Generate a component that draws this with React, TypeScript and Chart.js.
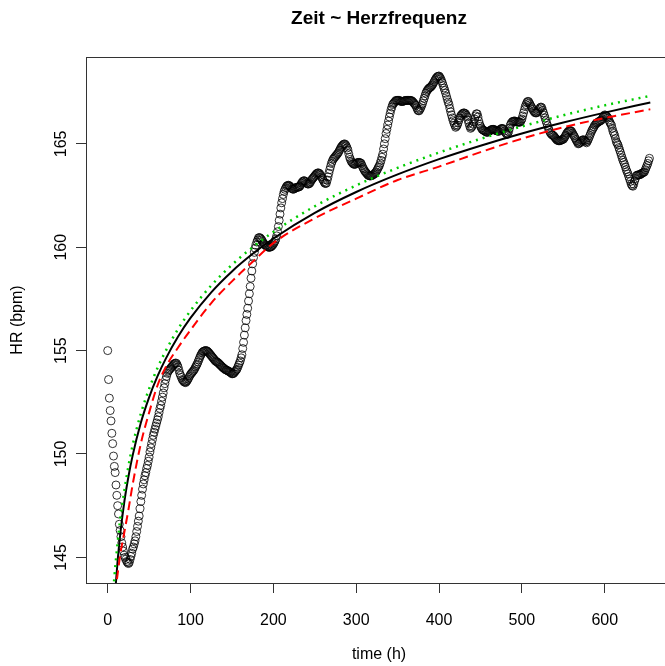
import React, { useEffect, useRef } from 'react';
import { Chart, registerables } from 'chart.js';

Chart.register(...registerables);

const titleText = 'Zeit ~ Herzfrequenz';
const xAxisLabel = 'time (h)';
const yAxisLabel = 'HR (bpm)';
const xTickValues = [0, 100, 200, 300, 400, 500, 600];
const yTickValues = [145, 150, 155, 160, 165];

// heart rate, one value per hour, t = 0 .. 654
const hrStart = 0;
const hrStep = 1;
const heartRate = [
  155.0, 153.6, 152.7, 152.1, 151.6, 151.0, 150.5, 149.9, 149.4, 149.1,
  148.5, 148.0, 147.5, 147.1, 146.6, 146.3, 146.0, 145.7, 145.5, 145.3,
  145.1, 145.0, 144.9, 144.8, 144.75, 144.7, 144.75, 144.9, 145.05, 145.2,
  145.4, 145.5, 145.65, 145.8, 146.0, 146.25, 146.5, 146.75, 147.0, 147.35,
  147.7, 148.0, 148.3, 148.55, 148.75, 148.95, 149.1, 149.3, 149.45, 149.65,
  149.85, 150.1, 150.3, 150.5, 150.7, 150.9, 151.05, 151.2, 151.35, 151.5,
  151.65, 151.8, 152.0, 152.2, 152.35, 152.55, 152.75, 152.95, 153.2, 153.4,
  153.6, 153.75, 153.9, 154.0, 154.05, 154.1, 154.15, 154.2, 154.25, 154.3,
  154.35, 154.38, 154.4, 154.38, 154.3, 154.2, 154.05, 153.9, 153.8, 153.7,
  153.6, 153.55, 153.5, 153.47, 153.45, 153.5, 153.55, 153.62, 153.7, 153.78,
  153.85, 153.9, 153.95, 154.0, 154.05, 154.12, 154.2, 154.28, 154.35, 154.45,
  154.55, 154.65, 154.75, 154.82, 154.9, 154.94, 154.97, 154.99, 155.0, 155.0,
  154.98, 154.94, 154.9, 154.85, 154.8, 154.75, 154.7, 154.65, 154.6, 154.55,
  154.5, 154.47, 154.45, 154.42, 154.38, 154.34, 154.3, 154.26, 154.22, 154.18,
  154.15, 154.12, 154.08, 154.06, 154.05, 154.02, 154.0, 153.98, 153.95, 153.92,
  153.88, 153.88, 153.9, 153.95, 154.0, 154.05, 154.1, 154.2, 154.3, 154.4,
  154.5, 154.65, 154.8, 155.1, 155.4, 155.75, 156.1, 156.45, 156.75, 157.05,
  157.4, 157.75, 158.1, 158.5, 158.85, 159.2, 159.5, 159.75, 159.95, 160.1,
  160.25, 160.35, 160.45, 160.47, 160.45, 160.4, 160.35, 160.28, 160.2, 160.15,
  160.1, 160.07, 160.05, 160.02, 160.0, 160.0, 160.0, 160.02, 160.05, 160.1,
  160.15, 160.22, 160.3, 160.4, 160.55, 160.75, 161.0, 161.3, 161.6, 161.9,
  162.15, 162.35, 162.55, 162.7, 162.8, 162.88, 162.95, 162.98, 163.0, 162.98,
  162.95, 162.9, 162.85, 162.82, 162.8, 162.82, 162.85, 162.88, 162.9, 162.9,
  162.9, 162.92, 162.95, 163.02, 163.1, 163.15, 163.2, 163.22, 163.2, 163.15,
  163.1, 163.07, 163.05, 163.07, 163.1, 163.17, 163.25, 163.3, 163.35, 163.4,
  163.45, 163.5, 163.55, 163.58, 163.6, 163.58, 163.55, 163.48, 163.4, 163.32,
  163.25, 163.17, 163.1, 163.08, 163.1, 163.25, 163.4, 163.58, 163.75, 163.9,
  164.05, 164.15, 164.25, 164.3, 164.35, 164.4, 164.45, 164.5, 164.55, 164.62,
  164.7, 164.78, 164.85, 164.9, 164.95, 164.98, 165.0, 164.96, 164.9, 164.8,
  164.7, 164.52, 164.35, 164.25, 164.15, 164.1, 164.05, 164.02, 164.0, 164.02,
  164.05, 164.08, 164.1, 164.1, 164.1, 164.08, 164.05, 163.95, 163.85, 163.78,
  163.7, 163.65, 163.6, 163.55, 163.5, 163.47, 163.45, 163.45, 163.45, 163.47,
  163.5, 163.52, 163.55, 163.6, 163.65, 163.72, 163.8, 163.88, 163.95, 164.07,
  164.2, 164.35, 164.5, 164.75, 165.0, 165.25, 165.5, 165.7, 165.9, 166.1,
  166.3, 166.48, 166.65, 166.78, 166.9, 166.95, 167.0, 167.05, 167.1, 167.1,
  167.1, 167.1, 167.1, 167.08, 167.05, 167.05, 167.05, 167.06, 167.08, 167.09,
  167.1, 167.1, 167.1, 167.1, 167.1, 167.1, 167.1, 167.08, 167.05, 167.0,
  166.95, 166.9, 166.85, 166.75, 166.65, 166.6, 166.6, 166.67, 166.75, 166.85,
  166.95, 167.08, 167.2, 167.32, 167.45, 167.53, 167.6, 167.65, 167.7, 167.72,
  167.75, 167.8, 167.85, 167.92, 168.0, 168.08, 168.15, 168.2, 168.25, 168.27,
  168.28, 168.22, 168.15, 168.05, 167.95, 167.82, 167.7, 167.58, 167.45, 167.3,
  167.15, 167.02, 166.9, 166.72, 166.55, 166.4, 166.25, 166.12, 166.0, 165.9,
  165.8, 165.85, 165.9, 166.02, 166.15, 166.25, 166.35, 166.4, 166.45, 166.48,
  166.5, 166.48, 166.45, 166.38, 166.3, 166.15, 166.0, 165.85, 165.75, 165.8,
  165.85, 165.95, 166.05, 166.2, 166.35, 166.45, 166.45, 166.3, 166.1, 165.95,
  165.85, 165.77, 165.7, 165.67, 165.65, 165.62, 165.6, 165.57, 165.55, 165.57,
  165.6, 165.62, 165.65, 165.68, 165.7, 165.7, 165.7, 165.68, 165.65, 165.64,
  165.63, 165.61, 165.6, 165.65, 165.7, 165.73, 165.75, 165.73, 165.7, 165.62,
  165.55, 165.5, 165.45, 165.5, 165.6, 165.75, 165.9, 165.98, 166.05, 166.08,
  166.1, 166.1, 166.1, 166.07, 166.05, 166.05, 166.05, 166.05, 166.05, 166.12,
  166.2, 166.35, 166.5, 166.65, 166.8, 166.9, 167.0, 167.05, 167.05, 166.98,
  166.9, 166.82, 166.75, 166.68, 166.6, 166.55, 166.5, 166.5, 166.5, 166.55,
  166.6, 166.68, 166.75, 166.78, 166.75, 166.62, 166.5, 166.38, 166.25, 166.12,
  166.0, 165.88, 165.75, 165.65, 165.55, 165.5, 165.45, 165.42, 165.4, 165.35,
  165.3, 165.25, 165.2, 165.17, 165.15, 165.15, 165.15, 165.17, 165.2, 165.21,
  165.22, 165.28, 165.35, 165.42, 165.5, 165.55, 165.6, 165.63, 165.65, 165.63,
  165.6, 165.52, 165.45, 165.38, 165.3, 165.22, 165.15, 165.08, 165.0, 165.02,
  165.05, 165.1, 165.15, 165.18, 165.2, 165.18, 165.15, 165.1, 165.05, 165.12,
  165.2, 165.3, 165.4, 165.5, 165.6, 165.68, 165.75, 165.82, 165.9, 165.95,
  166.0, 166.02, 166.05, 166.08, 166.1, 166.12, 166.15, 166.22, 166.3, 166.35,
  166.4, 166.38, 166.35, 166.3, 166.25, 166.15, 166.05, 165.98, 165.9, 165.75,
  165.6, 165.5, 165.4, 165.25, 165.1, 165.02, 164.95, 164.82, 164.7, 164.58,
  164.45, 164.32, 164.2, 164.1, 164.0, 163.88, 163.75, 163.65, 163.55, 163.42,
  163.3, 163.18, 163.05, 162.98, 162.95, 163.05, 163.2, 163.32, 163.45, 163.48,
  163.5, 163.5, 163.5, 163.52, 163.55, 163.58, 163.6, 163.62, 163.65, 163.75,
  163.85, 163.95, 164.05, 164.18, 164.3,
];

// fitted model curves at these times
const fitTimes = [7, 8, 10, 12, 15, 20, 25, 30, 40, 50, 60, 70, 85, 100, 125, 150, 175, 200, 250, 300, 350, 400, 450, 500, 550, 600, 655];
const fitBlack = [141.85, 142.59, 143.83, 144.84, 146.07, 147.67, 148.9, 149.91, 151.51, 152.74, 153.75, 154.6, 155.68, 156.58, 157.82, 158.83, 159.68, 160.42, 161.66, 162.67, 163.52, 164.26, 164.91, 165.5, 166.03, 166.51, 167.0];
const fitGreen = [143.5, 144.0, 144.9, 145.7, 146.8, 148.2, 149.4, 150.4, 151.95, 153.15, 154.15, 154.98, 156.05, 156.93, 158.15, 159.15, 160.0, 160.74, 161.98, 162.99, 163.84, 164.58, 165.24, 165.84, 166.38, 166.86, 167.32];
const fitRed = [142.6, 143.0, 143.6, 144.2, 145.1, 146.2, 147.3, 148.5, 150.5, 152.0, 153.3, 154.2, 155.15, 156.0, 157.3, 158.35, 159.3, 160.2, 161.4, 162.35, 163.25, 163.9, 164.6, 165.25, 165.8, 166.25, 166.67];

const X_MIN = -26.2;
const X_MAX = 681.2;
const Y_MIN = 143.76;
const Y_MAX = 169.2;

const FONT = '"Liberation Sans", Arial, Helvetica, sans-serif';

function seriesPoints(start: number, step: number, vals: number[]) {
  return vals.map((v, i) => ({ x: start + i * step, y: v }));
}
function curvePoints(ts: number[], vals: number[]) {
  return ts.map((t, i) => ({ x: t, y: vals[i] }));
}

const textPlugin = {
  id: 'rtext',
  afterDraw(chart: any) {
    const ctx = chart.ctx;
    const { left, right, top, bottom } = chart.chartArea;
    const yScale = chart.scales.y;
    ctx.save();
    ctx.strokeStyle = '#333';
    ctx.lineWidth = 1;
    ctx.strokeRect(Math.round(left) + 0.5, Math.round(top) + 0.5, Math.round(right - left), Math.round(bottom - top));
    ctx.fillStyle = '#000';
    ctx.font = `bold 19px ${FONT}`;
    ctx.textAlign = 'center';
    ctx.textBaseline = 'middle';
    const cx = (left + right) / 2;
    ctx.fillText(titleText, cx, 19);
    ctx.font = `16px ${FONT}`;
    ctx.fillText(xAxisLabel, cx, 655);
    for (const v of yTickValues) {
      const py = yScale.getPixelForValue(v);
      ctx.save();
      ctx.translate(62, py);
      ctx.rotate(-Math.PI / 2);
      ctx.fillText(String(v), 0, 0);
      ctx.restore();
    }
    ctx.save();
    ctx.translate(18, (top + bottom) / 2);
    ctx.rotate(-Math.PI / 2);
    ctx.fillText(yAxisLabel, 0, 0);
    ctx.restore();
    ctx.restore();
  },
};

export default function App() {
  const canvasRef = useRef<HTMLCanvasElement | null>(null);

  useEffect(() => {
    const canvas = canvasRef.current;
    if (!canvas) return;
    Chart.defaults.font.family = FONT;
    const chart = new Chart(canvas, {
      type: 'scatter',
      data: {
        datasets: [
          {
            label: 'green fit',
            data: curvePoints(fitTimes, fitGreen),
            showLine: true,
            borderColor: '#00CD00',
            borderWidth: 2.5,
            borderDash: [2, 5],
            pointRadius: 0,
            cubicInterpolationMode: 'monotone',
            order: 1,
          },
          {
            label: 'red fit',
            data: curvePoints(fitTimes, fitRed),
            showLine: true,
            borderColor: '#FF0000',
            borderWidth: 2,
            borderDash: [9, 5],
            pointRadius: 0,
            cubicInterpolationMode: 'monotone',
            order: 2,
          },
          {
            label: 'black fit',
            data: curvePoints(fitTimes, fitBlack),
            showLine: true,
            borderColor: '#000000',
            borderWidth: 2,
            pointRadius: 0,
            cubicInterpolationMode: 'monotone',
            order: 3,
          },
          {
            label: 'HR',
            data: seriesPoints(hrStart, hrStep, heartRate),
            showLine: false,
            pointStyle: 'circle',
            pointRadius: 4,
            pointBorderWidth: 1,
            pointBorderColor: 'rgba(0,0,0,0.8)',
            pointBackgroundColor: 'rgba(0,0,0,0)',
            order: 4,
          },
        ],
      } as any,
      options: {
        animation: false,
        responsive: false,
        devicePixelRatio: 1,
        layout: { padding: { top: 57, right: 28, left: 0, bottom: 0 } },
        plugins: {
          legend: { display: false },
          title: { display: false },
          tooltip: { enabled: false },
        },
        events: [],
        scales: {
          x: {
            type: 'linear',
            position: 'bottom',
            min: X_MIN,
            max: X_MAX,
            afterBuildTicks: (s: any) => {
              s.ticks = xTickValues.map((v) => ({ value: v }));
            },
            afterFit: (s: any) => {
              s.height = 83;
            },
            ticks: {
              autoSkip: false,
              maxRotation: 0,
              minRotation: 0,
              padding: 18,
              color: '#000',
              font: { size: 16, family: FONT },
            },
            grid: {
              display: true,
              drawOnChartArea: false,
              drawTicks: true,
              tickLength: 10,
              color: '#333',
              lineWidth: 1,
            },
            border: { display: false },
          },
          y: {
            type: 'linear',
            position: 'left',
            min: Y_MIN,
            max: Y_MAX,
            afterBuildTicks: (s: any) => {
              s.ticks = yTickValues.map((v) => ({ value: v }));
            },
            afterFit: (s: any) => {
              s.width = 86;
            },
            ticks: { display: false },
            grid: {
              display: true,
              drawOnChartArea: false,
              drawTicks: true,
              tickLength: 10,
              color: '#333',
              lineWidth: 1,
            },
            border: { display: false },
          },
        },
      } as any,
      plugins: [textPlugin],
    });
    return () => chart.destroy();
  }, []);

  return (
    <div
      style={{
        position: 'fixed',
        left: 0,
        top: 0,
        width: 665,
        height: 666,
        overflow: 'hidden',
        background: '#fff',
      }}
    >
      <canvas ref={canvasRef} width={700} height={666} style={{ display: 'block', width: 700, height: 666 }} />
    </div>
  );
}
